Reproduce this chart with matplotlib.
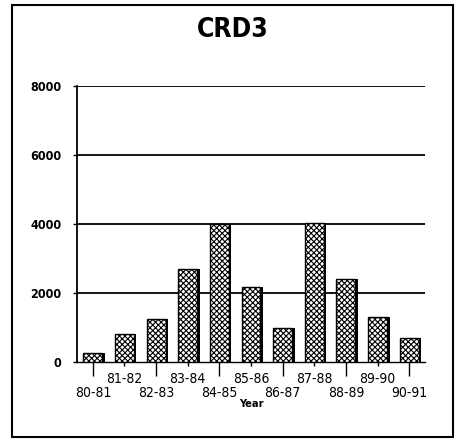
import matplotlib
matplotlib.use("Agg")
import matplotlib.pyplot as plt
import matplotlib.patches as mpatches
import numpy as np

plt.rcParams["font.family"] = ["DejaVu Sans"]
plt.rcParams["font.stretch"] = "condensed"
plt.rcParams["hatch.linewidth"] = 0.8

years = ["80-81", "81-82", "82-83", "83-84", "84-85", "85-86",
         "86-87", "87-88", "88-89", "89-90", "90-91"]
values = [250, 800, 1250, 2700, 4000, 2170, 1000, 4020, 2400, 1300, 700]
yticks = [0, 2000, 4000, 6000, 8000]

fig = plt.figure(figsize=(4.61, 4.41), dpi=100)
ax = fig.add_axes([77 / 461, 1 - 362 / 441, 348 / 461, 276 / 441])

x = np.arange(len(years))
# shadow on the right of each bar
ax.bar(x + 0.08, values, 0.6, color="black", zorder=2)
ax.bar(x, values, 0.6, color="white", edgecolor="black", hatch="xxxxxx",
       linewidth=1.0, zorder=3)

for v in yticks[1:]:
    ax.axhline(v, color="black", linewidth=1.3, zorder=1)

ax.set_xlim(-0.5, len(years) - 0.5)
ax.set_ylim(0, 8000)
ax.set_yticks(yticks)
ax.set_yticklabels([str(v) for v in yticks], fontsize=9, fontweight="bold")
ax.set_xticks(x)
ax.set_xticklabels(years, fontsize=10)
ax.tick_params(axis="x", length=10, width=1.0, direction="out")
# staggered labels: long ticks for the lower row, short ticks for the upper row
for i, t in enumerate(ax.xaxis.get_major_ticks()):
    if i % 2 == 0:
        t.set_pad(7.5)
    else:
        t.set_pad(-3)
        t.tick1line.set_markersize(3)
ax.tick_params(axis="y", length=3, width=1.0, pad=8)
for side in ["top", "right"]:
    ax.spines[side].set_visible(False)
ax.spines["left"].set_linewidth(1.3)
ax.spines["bottom"].set_linewidth(1.0)
ax.set_xlabel("Year", fontsize=8, fontweight="bold", labelpad=-1)

fig.text(233 / 461, 1 - 30 / 441, "CRD3", ha="center", va="center",
         fontsize=19, fontweight="bold")

fig.patches.append(mpatches.Rectangle((12 / 461, 4 / 441), 441 / 461, 432 / 441,
                                      transform=fig.transFigure, fill=False,
                                      edgecolor="black", linewidth=1.5))

fig.savefig("out.png", dpi=100)
